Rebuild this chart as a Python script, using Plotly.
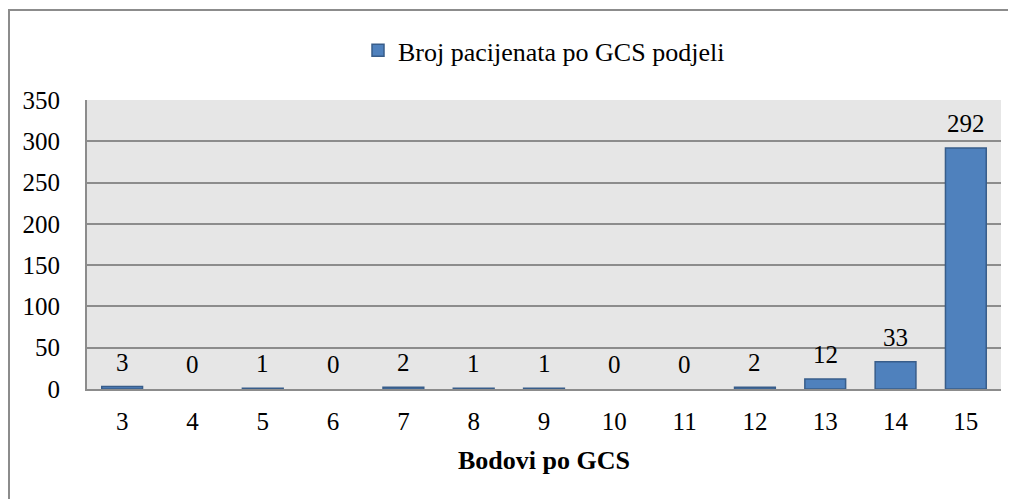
import plotly.graph_objects as go

categories = ["3", "4", "5", "6", "7", "8", "9", "10", "11", "12", "13", "14", "15"]
values = [3, 0, 1, 0, 2, 1, 1, 0, 0, 2, 12, 33, 292]
series_name = "Broj pacijenata po GCS podjeli"
x_title = "Bodovi po GCS"
y_ticks = [0, 50, 100, 150, 200, 250, 300, 350]

FONT = "Liberation Serif"
FS = 25
FS_TEXT = 26

fig = go.Figure()
fig.add_trace(go.Bar(
    x=categories, y=values, name=series_name,
    marker=dict(color="#4f81bd",
                line=dict(color="#385d8a", width=[1.5 if v > 0 else 0 for v in values])),
    showlegend=True,
))

for i, v in enumerate(values):
    fig.add_annotation(x=i, y=v, text=str(v), showarrow=False,
                       yanchor="bottom", yshift=9,
                       font=dict(family=FONT, size=FS, color="black"))

fig.update_layout(
    width=1016, height=499,
    margin=dict(l=79, r=23, t=92, b=118, autoexpand=False),
    paper_bgcolor="white",
    plot_bgcolor="#e6e6e6",
    bargap=0.42,
    font=dict(family=FONT, size=FS, color="black"),
    legend=dict(orientation="h", x=0.5, xanchor="center", y=0.962, yref="container",
                yanchor="top", font=dict(family=FONT, size=FS_TEXT),
                itemwidth=30, bgcolor="rgba(0,0,0,0)"),
    showlegend=True,
)
fig.update_xaxes(
    type="category", showgrid=False, showline=True, linecolor="#8c8c8c", linewidth=2,
    ticks="", tickfont=dict(family=FONT, size=FS), automargin=False, ticklabelstandoff=9,
    title=dict(text="<b>" + x_title + "</b>", font=dict(family=FONT, size=FS_TEXT), standoff=17),
)
fig.update_yaxes(
    range=[0, 350], tickvals=y_ticks, showgrid=True, gridcolor="#8c8c8c", gridwidth=1.5,
    showline=True, linecolor="#8c8c8c", linewidth=2, ticks="", zeroline=False,
    tickfont=dict(family=FONT, size=FS), ticklabelstandoff=20, automargin=False,
)
fig.add_shape(type="rect", xref="paper", yref="paper",
              x0=-78/914, x1=1.05, y0=-0.5, y1=1 + 90/289,
              line=dict(color="#8c8c8c", width=2), fillcolor="rgba(0,0,0,0)", layer="below")

fig.write_html("out.html")
